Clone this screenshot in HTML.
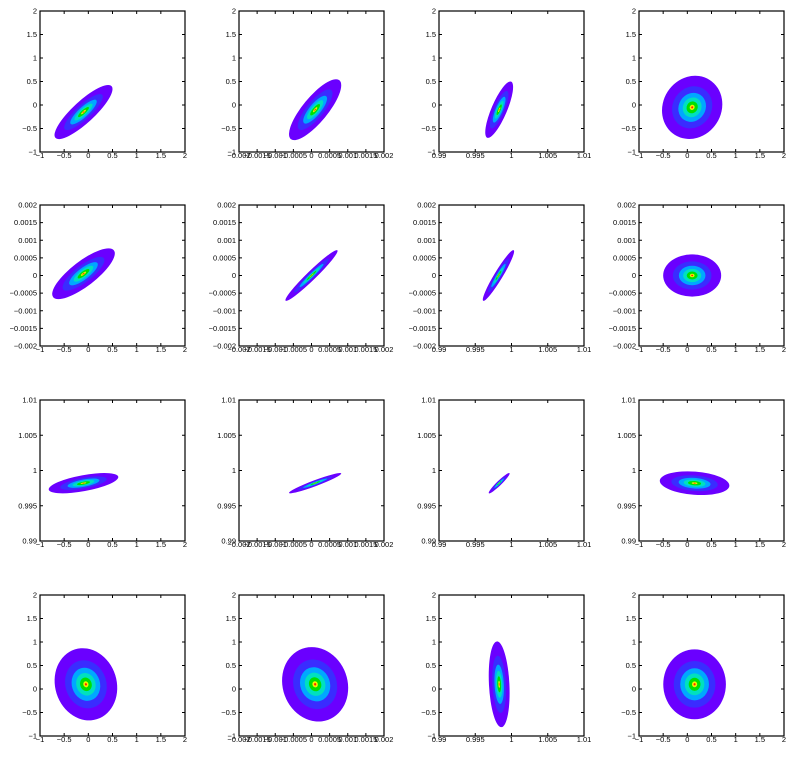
<!DOCTYPE html>
<html><head><meta charset="utf-8"><style>
body{margin:0;background:#fff;}
svg{display:block;font-family:"Liberation Sans",sans-serif;}
</style></head><body>
<svg id="fig" width="798" height="775" viewBox="0 0 798 775"></svg>
<script>
// axis ranges per column/row
const xRanges = [[-1,2],[-0.002,0.002],[0.99,1.01],[-1,2]];
const yRanges = [[-1,2],[-0.002,0.002],[0.99,1.01],[-1,2]];
const xTickLabels = [
  ["-1","-0.5","0","0.5","1","1.5","2"],
  ["-0.002","-0.0015","-0.001","-0.0005","0","0.0005","0.001","0.0015","0.002"],
  ["0.99","0.995","1","1.005","1.01"],
  ["-1","-0.5","0","0.5","1","1.5","2"]];
const xTickValues = [
  [-1,-0.5,0,0.5,1,1.5,2],
  [-0.002,-0.0015,-0.001,-0.0005,0,0.0005,0.001,0.0015,0.002],
  [0.99,0.995,1,1.005,1.01],
  [-1,-0.5,0,0.5,1,1.5,2]];
// per-panel density parameters (row-major): centers, spreads, correlation
const centersX = [-0.1,0.0001,0.9983,0.1, -0.1,0,0.9982,0.1, -0.1,0.0001,0.9983,0.15, -0.05,0.0001,0.9983,0.15];
const centersY = [-0.15,-0.1,-0.1,-0.05, 0.00005,0,0,0, 0.9982,0.9982,0.9982,0.9982, 0.1,0.1,0.1,0.1];
const spreadX = [0.25,0.0003,0.0008,0.26, 0.27,0.0003,0.0009,0.25, 0.3,0.0003,0.0006,0.3, 0.27,0.00038,0.0006,0.27];
const spreadY = [0.24,0.27,0.25,0.28, 0.0003,0.0003,0.0003,0.00025, 0.0006,0.0006,0.0006,0.0007, 0.32,0.33,0.38,0.31];
const correl = [0.85,0.8,0.8,0.1, 0.8,0.97,0.95,0, 0.6,0.95,0.95,-0.2, -0.1,-0.1,-0.2,0];
const levels = [2.4,1.6,1.1,0.75,0.45,0.2,0.08];
const levelColors = ["#6a00ff","#3a2cff","#00a8ff","#00e0c0","#00e000","#f0f000","#ff2000"];

const NS="http://www.w3.org/2000/svg";
const svg=document.getElementById('fig');
const colL=[40,239,439,639], rowT=[11,205,400,595], W=145, H=141;
function el(t,a,p){const e=document.createElementNS(NS,t);for(const k in a)e.setAttribute(k,a[k]);(p||svg).appendChild(e);return e;}
function fmt(s){return s.replace('-','\u2212');}

for(let r=0;r<4;r++)for(let c=0;c<4;c++){
  const i=r*4+c, L=colL[c], T=rowT[r];
  const xr=xRanges[c], yr=yRanges[r];
  const sx=v=>L+(v-xr[0])/(xr[1]-xr[0])*W;
  const sy=v=>T+H-(v-yr[0])/(yr[1]-yr[0])*H;
  const g=el('g',{});
  
  
  const clip=el('clipPath',{id:'cp'+i},g);
  el('rect',{x:L,y:T,width:W,height:H},clip);
  const dens=el('g',{'clip-path':'url(#cp'+i+')'},g);
  
  
  const a=spreadX[i]*W/(xr[1]-xr[0]), b=spreadY[i]*H/(yr[1]-yr[0]), rho=correl[i];
  const cxx=a*a, cyy=b*b, cxy=-rho*a*b;
  const tr=(cxx+cyy)/2, d=Math.sqrt(((cxx-cyy)/2)**2+cxy*cxy);
  const l1=tr+d, l2=Math.max(tr-d,0.01);
  const ang=Math.atan2(l1-cxx,cxy||1e-9)*180/Math.PI;
  const angle=(Math.abs(cxy)<1e-9)?(cxx>=cyy?0:90):ang;
  const cx=sx(centersX[i]), cy=sy(centersY[i]);
  levels.forEach((k,j)=>{
    const e=el('ellipse',{cx:cx,cy:cy,rx:k*Math.sqrt(l1),ry:k*Math.sqrt(l2),fill:levelColors[j],transform:`rotate(${angle} ${cx} ${cy})`},dens);
    
    
  });
  const fr=el('rect',{x:L,y:T,width:W,height:H,fill:'none',stroke:'#000','stroke-width':1.2},g);
  
  
  xTickValues[c].forEach((v,j)=>{
    const x=sx(v);
    el('line',{x1:x,y1:T+H,x2:x,y2:T+H-3,stroke:'#000','stroke-width':1},g);
    el('line',{x1:x,y1:T,x2:x,y2:T+3,stroke:'#000','stroke-width':1},g);
    const t=el('text',{x:x,y:T+H+6,'font-size':7.5,'text-anchor':'middle'},g);
    t.textContent=fmt(xTickLabels[c][j]);
    
    
  });
  xTickValues[r].forEach((v,j)=>{
    const y=sy(v);
    el('line',{x1:L,y1:y,x2:L+3,y2:y,stroke:'#000','stroke-width':1},g);
    el('line',{x1:L+W,y1:y,x2:L+W-3,y2:y,stroke:'#000','stroke-width':1},g);
  });
  xTickValues[r].forEach((v,j)=>{
    const t=el('text',{x:L-3,y:sy(v)+2.5,'font-size':7.5,'text-anchor':'end'},g);
    t.textContent=fmt(xTickLabels[r][j]);
    
    
  });
}
</script>
</body></html>
